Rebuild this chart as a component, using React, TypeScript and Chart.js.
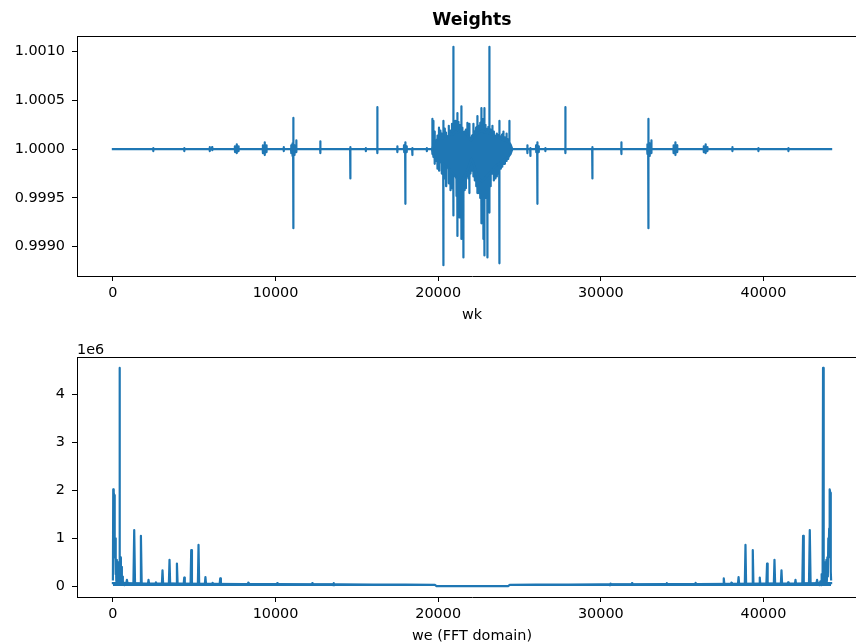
import React, { useEffect, useRef } from "react";
import { Chart, registerables } from "chart.js";

Chart.register(...registerables);

const BLUE = "#1f77b4";
const FAMILY = "'DejaVu Sans', 'Liberation Sans', sans-serif";
const TICK_SIZE = 14.4;

// ---------------- data ----------------
const sampleCount = 44160;
const xTicks = [0, 10000, 20000, 30000, 40000];
const weightTicks = [0.999, 0.9995, 1.0, 1.0005, 1.001];
const weightRange = [0.9987, 1.00116];
const fftTicks = [0, 1e6, 2e6, 3e6, 4e6];
const fftRange = [-0.228e6, 4.788e6];
const weightBaseline = 1.0;

// weights spikes: [index, max value, min value]
const weightSpikes: [number, number, number][] = [
  [2478, 1.00001, 0.99998],
  [4385, 1.00001, 0.99998],
  [5950, 1.00002, 0.99998], [6100, 1.00002, 0.99999],
  [7500, 1.00003, 0.99997], [7610, 1.00005, 0.99996], [7720, 1.00003, 0.99998],
  [9220, 1.00004, 0.99996], [9330, 1.00007, 0.99994], [9440, 1.00004, 0.99997],
  [10500, 1.00002, 0.99998],
  [10960, 1.00004, 0.99996], [11040, 1.00006, 0.99993], [11089, 1.00032, 0.99919], [11160, 1.00004, 0.99994], [11273, 1.00009, 0.99997],
  [12749, 1.00008, 0.99996],
  [14594, 1.00002, 0.9997],
  [15550, 1.00001, 0.99998],
  [16255, 1.00043, 0.99996],
  [17485, 1.00003, 0.99997],
  [17900, 1.00004, 0.99997], [17977, 1.00007, 0.99944], [18060, 1.00003, 0.99997],
  [18408, 1.00001, 0.99994],
  [19300, 1.00001, 0.99998],
  [19638, 1.00031, 0.99995],
  [19700, 1.00029, 0.99992],
  [19780, 1.00018, 0.99985],
  [19884, 1.00008, 0.99988],
  [19950, 1.00014, 0.9998],
  [20050, 1.00022, 0.99978],
  [20130, 1.00019, 0.9999],
  [20220, 1.00016, 0.99975],
  [20315, 1.00029, 0.99881],
  [20400, 1.00021, 0.9997],
  [20480, 1.00017, 0.99962],
  [20561, 1.00012, 0.99986],
  [20650, 1.00024, 0.99965],
  [20750, 1.00019, 0.99958],
  [20850, 1.00026, 0.9996],
  [20930, 1.00105, 0.99932],
  [21053, 1.00029, 0.9998],
  [21120, 1.00023, 0.99952],
  [21176, 1.00037, 0.99911],
  [21240, 1.00028, 0.99945],
  [21300, 1.0002, 0.9993],
  [21360, 1.00025, 0.99948],
  [21422, 1.00044, 0.99908],
  [21480, 1.00022, 0.9995],
  [21545, 1.0001, 0.99889],
  [21620, 1.00018, 0.99958],
  [21700, 1.0002, 0.9996],
  [21791, 1.00027, 0.99972],
  [21850, 1.00015, 0.9997],
  [21914, 1.00026, 0.99955],
  [21980, 1.00012, 0.99975],
  [22080, 1.00014, 0.99978],
  [22160, 1.00026, 0.99972],
  [22250, 1.00018, 0.99968],
  [22330, 1.00022, 0.99962],
  [22406, 1.00034, 0.99955],
  [22500, 1.00024, 0.99955],
  [22580, 1.00027, 0.9995],
  [22652, 1.00042, 0.99924],
  [22720, 1.00022, 0.99945],
  [22775, 1.00031, 0.99908],
  [22837, 1.00042, 0.99891],
  [22900, 1.00025, 0.9995],
  [22960, 1.00021, 0.99955],
  [23021, 1.0002, 0.99889],
  [23080, 1.00023, 0.99958],
  [23144, 1.00105, 0.99935],
  [23220, 1.0002, 0.99962],
  [23329, 1.00024, 0.99975],
  [23420, 1.00018, 0.99968],
  [23513, 1.00012, 0.9997],
  [23600, 1.00016, 0.99972],
  [23680, 1.00014, 0.99975],
  [23759, 1.00029, 0.99883],
  [23850, 1.00013, 0.9998],
  [23930, 1.00015, 0.99982],
  [24005, 1.00018, 0.99985],
  [24100, 1.00012, 0.99985],
  [24200, 1.00016, 0.99988],
  [24290, 1.0001, 0.9999],
  [24374, 1.00029, 0.99995],
  [25481, 1.00004, 0.99996],
  [25665, 1.00001, 0.99993],
  [26020, 1.00004, 0.99997], [26095, 1.00007, 0.99944], [26180, 1.00003, 0.99997],
  [26587, 1.00001, 0.99998],
  [27817, 1.00043, 0.99996],
  [29477, 1.00002, 0.9997],
  [31261, 1.00007, 0.99995],
  [32860, 1.00005, 0.99995], [32921, 1.00031, 0.99919], [33000, 1.00006, 0.99993], [33106, 1.00009, 0.99996],
  [34470, 1.00004, 0.99996], [34580, 1.00007, 0.99994], [34690, 1.00004, 0.99997],
  [36330, 1.00003, 0.99997], [36440, 1.00005, 0.99996], [36550, 1.00002, 0.99998],
  [38087, 1.00002, 0.99998],
  [39686, 1.00001, 0.99998],
  [41531, 1.00001, 0.99998],
];

// dense oscillation band in the middle of the weights
const weightBandX = [19638, 19761, 19950, 20130, 20300, 20438, 20600, 20745, 20900, 21053, 21200, 21360, 21500, 21606, 21750, 21852, 21950, 22037, 22130, 22222, 22350, 22468, 22600, 22714, 22870, 23021, 23180, 23329, 23480, 23636, 23800, 23944, 24130, 24313, 24450, 24558];
const weightBandHi = [1.0, 1.00008, 1.0001, 1.00012, 1.00011, 1.00014, 1.00013, 1.00016, 1.00015, 1.00018, 1.00017, 1.00019, 1.00018, 1.00017, 1.00015, 1.00013, 1.0001, 1.00009, 1.00011, 1.00013, 1.00015, 1.00017, 1.00018, 1.00019, 1.00017, 1.00018, 1.00016, 1.00015, 1.00014, 1.00013, 1.00011, 1.0001, 1.00009, 1.00008, 1.00005, 1.0];
const weightBandLo = [1.0, 0.99992, 0.99989, 0.99987, 0.99985, 0.99983, 0.99981, 0.99978, 0.99975, 0.99972, 0.99969, 0.99967, 0.99969, 0.99972, 0.99977, 0.99981, 0.99986, 0.9999, 0.99987, 0.99982, 0.99976, 0.99971, 0.99968, 0.99967, 0.9997, 0.99973, 0.99976, 0.99979, 0.99982, 0.99984, 0.99986, 0.99988, 0.9999, 0.99992, 0.99995, 1.0];

// FFT magnitude trace: [index, magnitude]
const fftTrace: [number, number | null][] = [
  [0, 0.14e6], [20, 2.02e6], [50, 1.95e6], [75, 1.9e6], [100, 1.15e6], [120, 0.6e6], [140, 1.0e6], [160, 0.25e6],
  [185, 0.6e6], [210, 0.1e6], [240, 0.55e6], [270, 0.08e6], [300, 0.5e6], [330, 0.05e6], [360, 0.5e6], [385, 0.1e6],
  [406, 4.56e6], [430, 0.3e6], [460, 0.6e6], [490, 0.05e6], [520, 0.4e6], [550, 0.03e6], [580, 0.2e6], [610, 0.03e6],
  [650, 0.08e6], [700, 0.02e6],
  [800, 0.03e6], [861, 0.13e6], [920, 0.03e6],
  [1260, 0.04e6], [1310, 1.17e6], [1360, 0.05e6],
  [1680, 0.05e6], [1722, 1.05e6], [1770, 0.04e6],
  [2150, 0.03e6], [2189, 0.13e6], [2230, 0.03e6],
  [2610, 0.03e6], [2645, 0.08e6], [2680, 0.03e6],
  [3010, 0.03e6], [3050, 0.33e6], [3090, 0.04e6],
  [3440, 0.04e6], [3481, 0.55e6], [3520, 0.05e6],
  [3900, 0.04e6], [3936, 0.47e6], [3980, 0.04e6],
  [4350, 0.03e6], [4385, 0.18e6], [4420, 0.03e6],
  [4775, 0.04e6], [4815, 0.75e6], [4860, 0.04e6],
  [5225, 0.04e6], [5264, 0.86e6], [5305, 0.04e6],
  [5650, 0.03e6], [5689, 0.19e6], [5730, 0.03e6],
  [6100, 0.03e6], [6132, 0.07e6], [6165, 0.03e6],
  [6560, 0.03e6], [6599, 0.16e6], [6640, 0.03e6],
  [8290, 0.03e6], [8321, 0.07e6], [8350, 0.03e6],
  [10080, 0.03e6], [10104, 0.06e6], [10130, 0.03e6],
  [12240, 0.03e6], [12260, 0.06e6], [12280, 0.03e6],
  [13550, 0.03e6], [13570, 0.06e6], [13590, 0.02e6],
  [22000, null],
  [30570, 0.02e6], [30590, 0.05e6], [30610, 0.03e6],
  [31900, 0.03e6], [31920, 0.06e6], [31940, 0.03e6],
  [34030, 0.03e6], [34050, 0.06e6], [34070, 0.03e6],
  [35800, 0.03e6], [35830, 0.07e6], [35860, 0.03e6],
  [37520, 0.03e6], [37561, 0.16e6], [37600, 0.03e6],
  [37990, 0.03e6], [38028, 0.07e6], [38060, 0.03e6],
  [38430, 0.03e6], [38471, 0.19e6], [38510, 0.03e6],
  [38855, 0.04e6], [38896, 0.86e6], [38935, 0.04e6],
  [39300, 0.04e6], [39345, 0.75e6], [39385, 0.04e6],
  [39740, 0.03e6], [39775, 0.18e6], [39810, 0.03e6],
  [40180, 0.04e6], [40224, 0.47e6], [40260, 0.04e6],
  [40640, 0.05e6], [40679, 0.55e6], [40720, 0.04e6],
  [41070, 0.04e6], [41110, 0.33e6], [41150, 0.03e6],
  [41480, 0.03e6], [41515, 0.08e6], [41550, 0.03e6],
  [41930, 0.03e6], [41971, 0.13e6], [42010, 0.03e6],
  [42390, 0.04e6], [42438, 1.05e6], [42480, 0.05e6],
  [42800, 0.05e6], [42850, 1.17e6], [42900, 0.04e6],
  [43240, 0.03e6], [43299, 0.13e6], [43360, 0.03e6],
  [43450, 0.02e6], [43500, 0.1e6], [43540, 0.02e6], [43580, 0.25e6], [43610, 0.03e6], [43640, 0.5e6],
  [43665, 4.56e6], [43690, 0.55e6], [43720, 0.1e6], [43750, 0.45e6], [43780, 0.05e6], [43810, 0.5e6],
  [43840, 0.08e6], [43870, 0.55e6], [43900, 0.1e6], [43930, 0.6e6], [43960, 0.2e6], [43990, 1.0e6],
  [44010, 0.6e6], [44040, 1.2e6], [44060, 1.9e6], [44085, 2.02e6], [44110, 1.95e6], [44140, 0.3e6],
  [44160, 0.14e6],
];

// FFT noise floor (filled down to zero)
const fftFloorX = [0, 700, 2000, 4000, 6000, 8000, 10000, 12000, 14000, 16000, 18000, 19800, 19900, 24300, 24400, 26000, 28000, 30000, 32000, 34000, 36000, 38000, 40000, 42000, 43500, 44160];
const fftFloorY = [0.06e6, 0.06e6, 0.05e6, 0.05e6, 0.045e6, 0.04e6, 0.04e6, 0.035e6, 0.035e6, 0.03e6, 0.03e6, 0.025e6, 0, 0, 0.025e6, 0.03e6, 0.03e6, 0.035e6, 0.035e6, 0.04e6, 0.04e6, 0.045e6, 0.05e6, 0.05e6, 0.06e6, 0.06e6];

// ---------------- helpers ----------------
const xLimits = [-0.05 * sampleCount, 1.05 * sampleCount];

function weightPath() {
  const pts: { x: number; y: number }[] = [{ x: 0, y: weightBaseline }];
  const sorted = [...weightSpikes].sort((a, b) => a[0] - b[0]);
  for (const [x, hi, lo] of sorted) {
    pts.push({ x: x - 8, y: weightBaseline }, { x, y: hi }, { x: x + 8, y: lo }, { x: x + 16, y: weightBaseline });
  }
  pts.push({ x: sampleCount, y: weightBaseline });
  return pts;
}

const tickFont = { family: FAMILY, size: TICK_SIZE };

function xAxis(label: string) {
  return {
    type: "linear",
    bounds: "data",
    min: xLimits[0],
    max: xLimits[1],
    afterBuildTicks: (s: any) => {
      s.ticks = xTicks.map((v) => ({ value: v }));
    },
    afterFit: (s: any) => {
      s.height = 52;
    },
    grid: { drawOnChartArea: false, drawTicks: true, tickLength: 5, color: "#000", lineWidth: 1 },
    border: { display: true, color: "#000", width: 1 },
    ticks: { color: "#000", font: tickFont, padding: 4, maxRotation: 0, autoSkip: false, callback: (v: any) => String(v) },
    title: { display: true, text: label, color: "#000", font: tickFont, padding: { top: 0, bottom: 4.4 } },
  };
}

function yAxis(range: number[], ticks: number[], fmt: (v: number) => string) {
  return {
    type: "linear",
    bounds: "data",
    min: range[0],
    max: range[1],
    afterBuildTicks: (s: any) => {
      s.ticks = ticks.map((v) => ({ value: v }));
    },
    afterFit: (s: any) => {
      s.width = 77;
    },
    grid: { drawOnChartArea: false, drawTicks: true, tickLength: 5, color: "#000", lineWidth: 1 },
    border: { display: true, color: "#000", width: 1 },
    ticks: { color: "#000", font: tickFont, padding: 7, autoSkip: false, callback: (v: any) => fmt(Number(v)) },
  };
}

const framePlugin = {
  id: "frame",
  afterDraw(chart: any) {
    const { ctx, chartArea: a } = chart;
    const l = Math.round(a.left) + 0.5;
    const r = Math.round(a.right) - 0.5;
    const t = Math.round(a.top) + 0.5;
    const b = Math.round(a.bottom) + 0.5;
    ctx.save();
    ctx.strokeStyle = "#000";
    ctx.lineWidth = 1;
    ctx.beginPath();
    ctx.moveTo(l, b);
    ctx.lineTo(l, t);
    ctx.lineTo(r, t);
    ctx.lineTo(r, b);
    ctx.stroke();
    ctx.restore();
  },
};

const offsetTextPlugin = {
  id: "offsetText",
  afterDraw(chart: any) {
    const { ctx, chartArea: a } = chart;
    ctx.save();
    ctx.fillStyle = "#000";
    ctx.font = `${TICK_SIZE}px ${FAMILY}`;
    ctx.textAlign = "left";
    ctx.textBaseline = "alphabetic";
    ctx.fillText("1e6", a.left, a.top - 3.5);
    ctx.restore();
  },
};

const lineStyle = {
  borderColor: BLUE,
  borderWidth: 2.2,
  pointRadius: 0,
  tension: 0,
  borderJoinStyle: "round",
  borderCapStyle: "square",
};

function topConfig(): any {
  return {
    type: "line",
    data: {
      datasets: [
        { ...lineStyle, data: weightBandX.map((x, i) => ({ x, y: weightBandLo[i] })), fill: false },
        { ...lineStyle, data: weightBandX.map((x, i) => ({ x, y: weightBandHi[i] })), fill: "-1", backgroundColor: BLUE },
        { ...lineStyle, data: weightPath(), fill: false },
      ],
    },
    options: {
      animation: false,
      responsive: false,
      devicePixelRatio: 1,
      layout: { padding: { left: 0, right: 13, top: 0, bottom: 0 } },
      plugins: {
        legend: { display: false },
        tooltip: { enabled: false },
        title: {
          display: true,
          text: "Weights",
          fullSize: false,
          color: "#000",
          font: { family: FAMILY, size: 17.3, weight: "bold" },
          padding: { top: 10, bottom: 5.24 },
        },
      },
      scales: {
        x: xAxis("wk"),
        y: yAxis(weightRange, weightTicks, (v) => v.toFixed(4)),
      },
    },
    plugins: [framePlugin],
  };
}

function bottomConfig(): any {
  return {
    type: "line",
    data: {
      datasets: [
        { ...lineStyle, data: fftFloorX.map((x, i) => ({ x, y: fftFloorY[i] })), fill: "origin", backgroundColor: BLUE },
        { ...lineStyle, data: fftTrace.map(([x, y]) => ({ x, y })), fill: false, spanGaps: false },
      ],
    },
    options: {
      animation: false,
      responsive: false,
      devicePixelRatio: 1,
      layout: { padding: { left: 0, right: 13, top: 29, bottom: 0 } },
      plugins: {
        legend: { display: false },
        tooltip: { enabled: false },
      },
      scales: {
        x: xAxis("we (FFT domain)"),
        y: yAxis(fftRange, fftTicks, (v) => String(Math.round(v / 1e6))),
      },
    },
    plugins: [framePlugin, offsetTextPlugin],
  };
}

export default function App() {
  const topRef = useRef<HTMLCanvasElement>(null);
  const botRef = useRef<HTMLCanvasElement>(null);
  useEffect(() => {
    const top = new Chart(topRef.current as HTMLCanvasElement, topConfig());
    const bot = new Chart(botRef.current as HTMLCanvasElement, bottomConfig());
    return () => {
      top.destroy();
      bot.destroy();
    };
  }, []);
  return (
    <div style={{ position: "fixed", left: 0, top: 0, width: 856, height: 643, overflow: "hidden", background: "#fff" }}>
      <canvas ref={topRef} width={880} height={328} style={{ position: "absolute", left: 0, top: 0 }} />
      <canvas ref={botRef} width={880} height={321} style={{ position: "absolute", left: 0, top: 328 }} />
    </div>
  );
}
